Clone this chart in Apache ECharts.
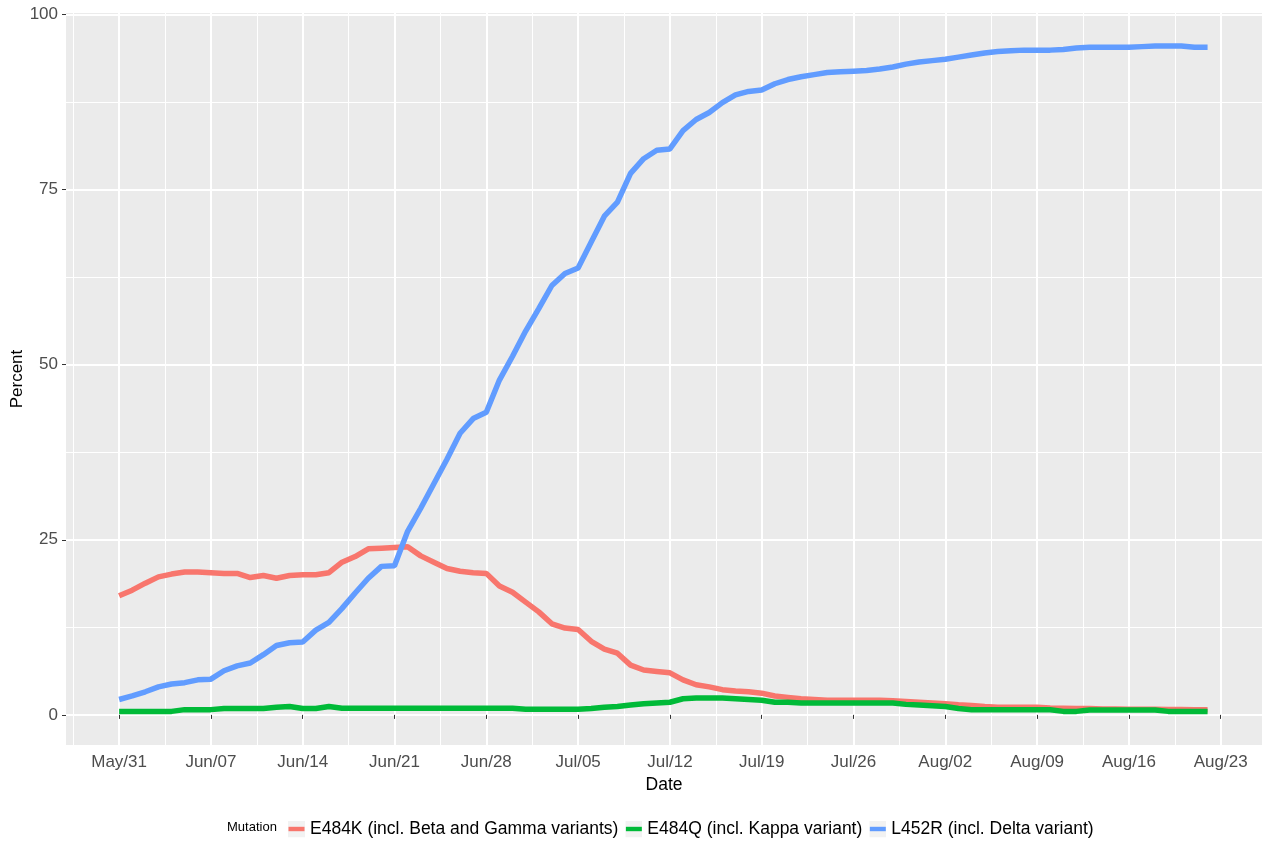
<!doctype html>
<html>
<head>
<meta charset="utf-8">
<title>Mutation share</title>
<script src="https://cdn.jsdelivr.net/npm/echarts@6/dist/echarts.min.js"></script>
<style>
  html, body { margin: 0; padding: 0; background: #ffffff; }
  #chart { width: 1262px; height: 843px; }
</style>
</head>
<body>
<div id="chart"></div>
<script>
// daily values, May 31 to Aug 22
var seriesNames = ['E484K (incl. Beta and Gamma variants)', 'E484Q (incl. Kappa variant)', 'L452R (incl. Delta variant)'];
var colors = ['#F8766D', '#00BA38', '#619CFF'];

var e484k = [17.0, 17.8, 18.8, 19.7, 20.1, 20.4, 20.4, 20.3, 20.2, 20.2,
  19.6, 19.9, 19.5, 19.9, 20.0, 20.0, 20.3, 21.8, 22.6, 23.7,
  23.8, 23.9, 24.0, 22.7, 21.8, 20.9, 20.5, 20.3, 20.2, 18.4,
  17.5, 16.1, 14.7, 13.0, 12.4, 12.2, 10.5, 9.4, 8.8, 7.1,
  6.4, 6.2, 6.0, 5.0, 4.3, 4.0, 3.6, 3.4, 3.3, 3.1,
  2.7, 2.5, 2.3, 2.2, 2.1, 2.1, 2.1, 2.1, 2.1, 2.0,
  1.9, 1.8, 1.7, 1.6, 1.45, 1.35, 1.2, 1.1, 1.1, 1.1,
  1.1, 1.0, 0.95, 0.9, 0.9, 0.85, 0.85, 0.8, 0.8, 0.8,
  0.77, 0.77, 0.75, 0.75];

var e484q = [0.5, 0.5, 0.5, 0.5, 0.5, 0.75, 0.75, 0.75, 0.9, 0.9,
  0.9, 0.9, 1.1, 1.2, 0.9, 0.9, 1.2, 0.95, 0.95, 0.95,
  0.95, 0.95, 0.95, 0.95, 0.95, 0.95, 0.95, 0.95, 0.95, 0.95,
  0.95, 0.8, 0.8, 0.8, 0.8, 0.8, 0.9, 1.1, 1.2, 1.4,
  1.6, 1.7, 1.8, 2.3, 2.4, 2.4, 2.4, 2.3, 2.2, 2.1,
  1.8, 1.8, 1.7, 1.7, 1.7, 1.7, 1.7, 1.7, 1.7, 1.7,
  1.5, 1.4, 1.3, 1.2, 0.9, 0.72, 0.72, 0.72, 0.72, 0.72,
  0.72, 0.72, 0.5, 0.5, 0.7, 0.7, 0.7, 0.7, 0.7, 0.7,
  0.5, 0.5, 0.5, 0.5];

var l452r = [2.2, 2.7, 3.3, 4.0, 4.4, 4.6, 5.0, 5.1, 6.3, 7.0,
  7.4, 8.6, 9.9, 10.3, 10.4, 12.1, 13.2, 15.2, 17.4, 19.5,
  21.2, 21.3, 26.2, 29.5, 33.0, 36.5, 40.2, 42.3, 43.2, 47.8,
  51.2, 54.8, 58.0, 61.3, 63.0, 63.8, 67.5, 71.2, 73.2, 77.3,
  79.4, 80.6, 80.8, 83.4, 85.0, 86.0, 87.4, 88.5, 89.0, 89.2,
  90.1, 90.7, 91.1, 91.4, 91.7, 91.8, 91.9, 92.0, 92.2, 92.5,
  92.9, 93.2, 93.4, 93.6, 93.9, 94.2, 94.5, 94.7, 94.8, 94.9,
  94.9, 94.9, 95.0, 95.2, 95.3, 95.3, 95.3, 95.3, 95.4, 95.5,
  95.5, 95.5, 95.3, 95.3];

var yTicks = [0, 25, 50, 75, 100];
var yMinor = [12.5, 37.5, 62.5, 87.5];
var monthNames = ['Jan', 'Feb', 'Mar', 'Apr', 'May', 'Jun', 'Jul', 'Aug', 'Sep', 'Oct', 'Nov', 'Dec'];

var DAY = 24 * 3600 * 1000;
var t0 = Date.UTC(2021, 4, 31);
var dates = [];
for (var i = 0; i < l452r.length; i++) dates.push(t0 + i * DAY);

// weekly breaks and the minor ones in between
var xTicks = [];
var xMinor = [];
for (var w = 0; w <= 12; w++) xTicks.push(t0 + w * 7 * DAY);
for (var m = -1; m <= 12; m++) xMinor.push(t0 + (m * 7 + 3.5) * DAY);

function pairs(vals) {
  return vals.map(function (v, k) { return [dates[k], v]; });
}

function fmtDate(v) {
  var d = new Date(v);
  var dd = d.getUTCDate();
  return monthNames[d.getUTCMonth()] + '/' + (dd < 10 ? '0' + dd : dd);
}

// ggplot style legend key: grey square with the line through it
function keyIcon(col) {
  var svg = '<svg xmlns="http://www.w3.org/2000/svg" width="17" height="17">' +
    '<rect width="17" height="17" fill="#F2F2F2"/>' +
    '<rect x="0.5" y="6.3" width="16" height="4.4" fill="' + col + '"/></svg>';
  return 'image://data:image/svg+xml;charset=utf-8,' + encodeURIComponent(svg);
}

var font = 'Liberation Sans, Arial, sans-serif';
var xMin = t0 - 4.05 * DAY;
var xMax = dates[dates.length - 1] + 4.15 * DAY;

var chart = echarts.init(document.getElementById('chart'));

var option = {
  animation: false,
  backgroundColor: '#ffffff',
  textStyle: { fontFamily: font },
  title: {
    text: 'Mutation',
    left: 227,
    top: 821,
    padding: 0,
    textStyle: { fontSize: 13, fontWeight: 'normal', color: '#000000', fontFamily: font }
  },
  legend: {
    left: 288,
    top: 820,
    padding: 0,
    itemWidth: 17,
    itemHeight: 17,
    itemGap: 7,
    textStyle: { fontSize: 17.5, color: '#000000', fontFamily: font },
    data: seriesNames.map(function (n, k) { return { name: n, icon: keyIcon(colors[k]) }; })
  },
  grid: {
    left: 66,
    right: 0,
    top: 13,
    bottom: 98,
    containLabel: false,
    outerBoundsMode: 'none',
    show: true,
    backgroundColor: '#EBEBEB',
    borderWidth: 0
  },
  xAxis: [{
    type: 'value',
    min: xMin,
    max: xMax,
    name: 'Date',
    nameLocation: 'middle',
    nameGap: 31,
    nameMoveOverlap: false,
    nameTextStyle: { fontSize: 17.5, color: '#000000' },
    axisLine: { show: false },
    axisTick: { show: true, length: 4, customValues: xTicks, lineStyle: { color: '#333333', width: 1 } },
    axisLabel: {
      customValues: xTicks,
      formatter: fmtDate,
      fontSize: 17,
      color: '#4D4D4D',
      margin: 9,
      hideOverlap: false
    },
    splitLine: { show: true, lineStyle: { color: '#ffffff', width: 2 } }
  }, {
    type: 'value',
    min: xMin,
    max: xMax,
    position: 'bottom',
    axisLine: { show: false },
    axisTick: { show: false, customValues: xMinor },
    axisLabel: { show: false },
    splitLine: { show: true, lineStyle: { color: '#ffffff', width: 1 } }
  }],
  yAxis: [{
    type: 'value',
    min: -4.3,
    max: 100.2,
    name: 'Percent',
    nameLocation: 'middle',
    nameGap: 40,
    nameMoveOverlap: false,
    nameTextStyle: { fontSize: 17, color: '#000000' },
    axisLine: { show: false },
    axisTick: { show: true, length: 4, customValues: yTicks, lineStyle: { color: '#333333', width: 1 } },
    axisLabel: { customValues: yTicks, fontSize: 17, color: '#4D4D4D', margin: 8 },
    splitLine: { show: true, lineStyle: { color: '#ffffff', width: 2 } }
  }, {
    type: 'value',
    min: -4.3,
    max: 100.2,
    position: 'left',
    axisLine: { show: false },
    axisTick: { show: false, customValues: yMinor },
    axisLabel: { show: false },
    splitLine: { show: true, lineStyle: { color: '#ffffff', width: 1 } }
  }],
  series: [
    { name: seriesNames[0], type: 'line', data: pairs(e484k), color: colors[0] },
    { name: seriesNames[1], type: 'line', data: pairs(e484q), color: colors[1] },
    { name: seriesNames[2], type: 'line', data: pairs(l452r), color: colors[2] }
  ].map(function (s) {
    s.showSymbol = false;
    s.symbol = 'none';
    s.lineStyle = { width: 5.5, color: s.color };
    s.itemStyle = { color: s.color };
    return s;
  })
};

chart.setOption(option);
</script>
</body>
</html>
